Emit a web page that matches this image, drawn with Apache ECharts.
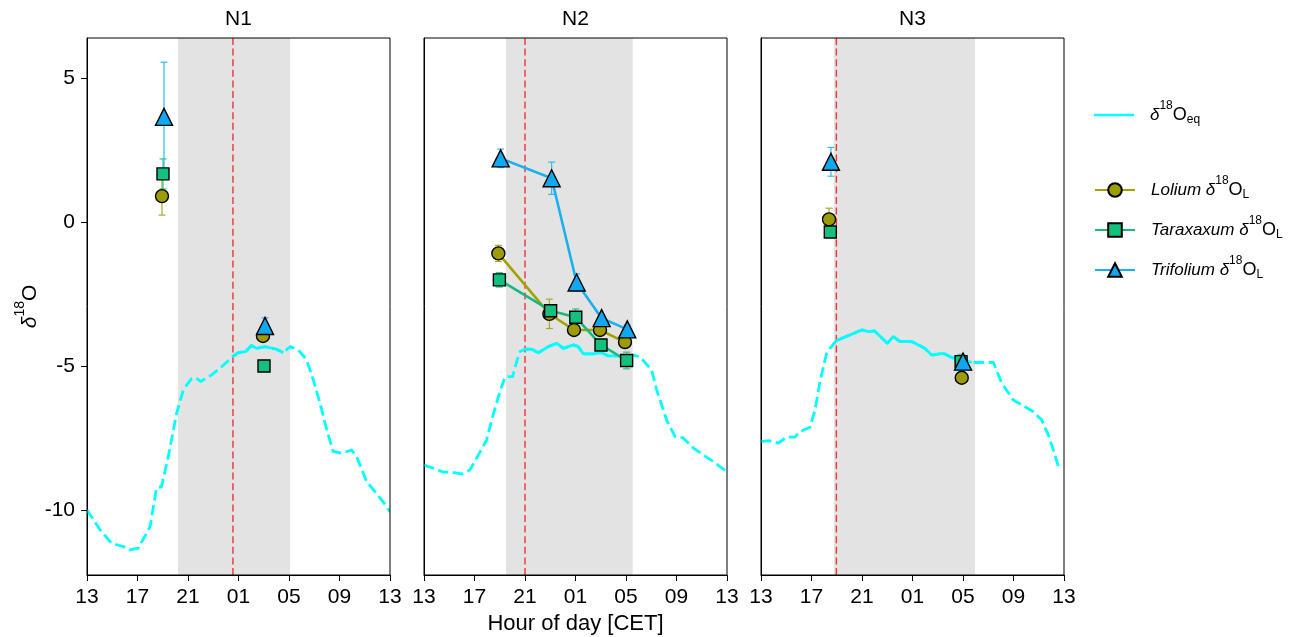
<!DOCTYPE html>
<html>
<head>
<meta charset="utf-8">
<script src="https://cdn.jsdelivr.net/npm/echarts@6/dist/echarts.min.js"></script>
<style>
  html, body { margin: 0; padding: 0; background: #fff; }
  #chart { width: 1301px; height: 637px; }
</style>
</head>
<body>
<div id="chart"></div>
<script>
// Time axis: hours after 13:00 CET (0 = 13:00, 24 = 13:00 the next day)
const hourTickLabels = ['13', '17', '21', '01', '05', '09', '13'];
const panelNames = ['N1', 'N2', 'N3'];
const yTickValues = [-10, -5, 0, 5];

// Night window (grey band) and red marker line for each night
const nightStart = [7.2, 6.5, 5.78];
const nightEnd = [16.08, 16.53, 16.95];
const markerTime = [11.56, 8.0, 5.97];
// Stretch of the equilibrium curve drawn as a solid line
const solidFrom = [11.53, 8.0, 5.97];
const solidTo = [15.55, 16.53, 16.69];

// Equilibrium δ18O, [hour, value]
const eqN1 = [[0,-10.0],[1.03,-10.69],[1.95,-11.16],[2.87,-11.27],[3.4,-11.39],[4.06,-11.33],[5.0,-10.58],[5.5,-9.25],[5.9,-9.19],[6.44,-8.15],[7.1,-6.64],[7.63,-5.83],[8.29,-5.43],[8.68,-5.43],[9.0,-5.54],[9.87,-5.31],[10.53,-5.08],[11.53,-4.68],[11.98,-4.54],[12.56,-4.5],[13.03,-4.29],[13.43,-4.39],[14.1,-4.33],[15.02,-4.42],[15.55,-4.54],[16.08,-4.33],[16.74,-4.44],[17.4,-4.79],[17.93,-5.49],[18.46,-6.3],[18.99,-7.22],[19.5,-7.97],[20.17,-8.03],[20.96,-7.92],[21.36,-8.15],[22.15,-9.02],[22.8,-9.36],[23.74,-9.88],[24,-10.07]];
const eqN2 = [[0,-8.44],[0.74,-8.55],[1.53,-8.69],[2.19,-8.69],[2.98,-8.75],[3.64,-8.61],[4.17,-8.2],[4.96,-7.57],[5.36,-6.88],[5.89,-6.07],[6.42,-5.37],[7.02,-5.37],[7.34,-4.85],[7.6,-4.5],[8.0,-4.42],[8.53,-4.42],[9.06,-4.54],[9.85,-4.33],[10.51,-4.21],[11.03,-4.39],[11.83,-4.27],[12.22,-4.33],[12.62,-4.58],[13.41,-4.58],[14.07,-4.54],[14.6,-4.65],[15.26,-4.65],[15.92,-4.68],[16.53,-4.62],[17.1,-4.68],[18.03,-5.14],[18.43,-5.83],[19.22,-6.88],[19.88,-7.45],[20.53,-7.5],[21.33,-7.85],[22.12,-8.09],[22.91,-8.32],[23.97,-8.67]];
const eqN3 = [[0,-7.63],[0.58,-7.59],[1.37,-7.68],[2.03,-7.47],[2.69,-7.47],[3.09,-7.28],[3.88,-7.13],[4.28,-6.53],[4.67,-5.54],[5.2,-4.56],[5.47,-4.39],[5.97,-4.12],[7.98,-3.75],[8.5,-3.81],[8.98,-3.78],[10.0,-4.21],[10.48,-3.98],[11.0,-4.15],[11.94,-4.15],[12.99,-4.39],[13.52,-4.62],[14.44,-4.56],[15.1,-4.71],[15.76,-4.76],[16.69,-4.88],[17.6,-4.88],[18.4,-4.88],[19.07,-5.6],[19.98,-6.18],[20.65,-6.35],[21.57,-6.59],[22.24,-6.88],[22.76,-7.4],[23.16,-7.92],[23.56,-8.5]];
const eqData = [eqN1, eqN2, eqN3];

// Leaf water δ18O: sampling hour, mean, standard error
const loliumTime = [[5.94, 13.94], [5.89, 9.93, 11.88, 13.94, 15.92], [5.39, 15.9]];
const loliumVal  = [[0.9, -3.96], [-1.09, -3.19, -3.75, -3.75, -4.17], [0.09, -5.41]];
const loliumErr  = [[0.66, 0.12], [0.28, 0.51, 0.12, 0.12, 0.15], [0.39, 0.1]];

const taraxacumTime = [[6.02, 14.02], [5.97, 10.03, 12.02, 14.02, 16.05], [5.49, 15.85]];
const taraxacumVal  = [[1.67, -5.0], [-2.01, -3.08, -3.31, -4.27, -4.81], [-0.35, -4.85]];
const taraxacumErr  = [[0.52, 0.05], [0.25, 0.15, 0.29, 0.1, 0.29], [0.1, 0.25]];

const trifoliumTime = [[6.1, 14.1], [6.07, 10.11, 12.09, 14.07, 16.1], [5.54, 16.0]];
const trifoliumVal  = [[3.65, -3.61], [2.21, 1.52, -2.1, -3.34, -3.73], [2.09, -4.85]];
const trifoliumErr  = [[1.9, 0.28], [0.32, 0.56, 0.3, 0.1, 0.15], [0.5, 0.15]];

const Y_MIN = -12.26, Y_MAX = 6.39;
const FONT = 'Liberation Sans, Arial, sans-serif';
const EQ_COLOR = '#00ffff';
const EQ_WIDTH = 2.8;

const species = [
  { name: 'Lolium', time: loliumTime, val: loliumVal, err: loliumErr,
    symbol: 'circle', size: 13, fill: '#9c9c00', line: '#a3a300', bar: '#a8a830' },
  { name: 'Taraxaxum', time: taraxacumTime, val: taraxacumVal, err: taraxacumErr,
    symbol: 'rect', size: 12, fill: '#14c07e', line: '#18b880', bar: '#30c090' },
  { name: 'Trifolium', time: trifoliumTime, val: trifoliumVal, err: trifoliumErr,
    symbol: 'triangle', size: 17, fill: '#10a8f0', line: '#18b0f0', bar: '#30b8f0' }
];

const gridLeft = [87, 424, 761];
const grids = [], xAxes = [], yAxes = [], titles = [], series = [];

const zip = (a, b) => a.map((t, i) => [t, b[i]]);

panelNames.forEach((pname, p) => {
  grids.push({ left: gridLeft[p], top: 38, width: 303, height: 537,
    outerBoundsMode: 'none', containLabel: false,
    show: true, borderColor: '#000', borderWidth: 1, backgroundColor: 'transparent', z: 10 });
  titles.push({ text: pname, left: gridLeft[p] + 146.5, top: 4, textAlign: 'center',
    textStyle: { fontFamily: FONT, fontSize: 21, fontWeight: 'normal', color: '#000' } });
  const xa = {
    gridIndex: p, type: 'value', min: 0, max: 24, interval: 4,
    axisLine: { show: true, onZero: false, lineStyle: { color: '#000', width: 1 } },
    axisTick: { show: true, length: 6, lineStyle: { color: '#000' } },
    axisLabel: { margin: 12, fontFamily: FONT, fontSize: 21, color: '#000',
      formatter: v => hourTickLabels[Math.round(v / 4)] },
    splitLine: { show: false }
  };
  if (p === 1) {
    xa.name = 'Hour of day [CET]';
    xa.nameLocation = 'middle';
    xa.nameGap = 35;
    xa.nameTextStyle = { fontFamily: FONT, fontSize: 22, color: '#000' };
  }
  xAxes.push(xa);
  const ya = {
    gridIndex: p, type: 'value', min: Y_MIN, max: Y_MAX,
    axisLine: { show: true, onZero: false, lineStyle: { color: '#000', width: 1 } },
    axisTick: { show: p === 0, length: 6, customValues: yTickValues, lineStyle: { color: '#000' } },
    axisLabel: { show: p === 0, customValues: yTickValues, margin: 12,
      fontFamily: FONT, fontSize: 21, color: '#000' },
    splitLine: { show: false }
  };
  if (p === 0) {
    ya.name = '{d|δ}{sup|18}{n|O}';
    ya.nameLocation = 'middle';
    ya.nameRotate = 90;
    ya.nameGap = 27;
    ya.nameTextStyle = { fontFamily: FONT, fontSize: 21, color: '#000',
      rich: {
        d: { fontFamily: FONT, fontSize: 21, fontStyle: 'italic', lineHeight: 34 },
        sup: { fontFamily: FONT, fontSize: 14, verticalAlign: 'top', lineHeight: 34 },
        n: { fontFamily: FONT, fontSize: 21, lineHeight: 34 }
      } };
  }
  yAxes.push(ya);

  // grey night band
  series.push({
    type: 'custom', xAxisIndex: p, yAxisIndex: p, z: 1, silent: true,
    data: [[nightStart[p], nightEnd[p]]],
    encode: { x: [0, 1] },
    renderItem: (params, api) => {
      const a = api.coord([api.value(0), Y_MAX]);
      const b = api.coord([api.value(1), Y_MIN]);
      return { type: 'rect', shape: { x: a[0], y: a[1], width: b[0] - a[0], height: b[1] - a[1] },
        style: { fill: '#e3e3e3' } };
    }
  });
  // red dashed marker line
  series.push({
    type: 'custom', xAxisIndex: p, yAxisIndex: p, z: 2, silent: true,
    data: [[markerTime[p]]],
    encode: { x: 0 },
    renderItem: (params, api) => {
      const a = api.coord([api.value(0), Y_MAX]);
      const b = api.coord([api.value(0), Y_MIN]);
      return { type: 'line', shape: { x1: a[0], y1: a[1], x2: b[0], y2: b[1] },
        style: { stroke: '#f03434', lineWidth: 1.4, lineDash: [7, 3.6] } };
    }
  });
  // equilibrium curve: dashed over the whole day...
  series.push({
    type: 'custom', xAxisIndex: p, yAxisIndex: p, z: 3, silent: true, clip: true,
    data: eqData[p], encode: { x: 0, y: 1 },
    renderItem: (params, api) => {
      if (params.dataIndex !== 0) return null;
      const pts = eqData[p].map(d => api.coord(d));
      return { type: 'polyline', shape: { points: pts },
        style: { stroke: EQ_COLOR, lineWidth: EQ_WIDTH, lineDash: [10.5, 4.6],
          fill: null, lineJoin: 'round' } };
    }
  });
  // ...and solid through the night stretch
  series.push({
    type: 'line', name: 'eq', xAxisIndex: p, yAxisIndex: p, z: 3,
    data: eqData[p].filter(d => d[0] >= solidFrom[p] - 1e-6 && d[0] <= solidTo[p] + 1e-6),
    symbol: 'none', silent: true,
    itemStyle: { color: EQ_COLOR },
    lineStyle: { color: EQ_COLOR, width: EQ_WIDTH }
  });

  species.forEach(s => {
    // error bars with caps
    series.push({
      type: 'custom', xAxisIndex: p, yAxisIndex: p, z: 4, silent: true,
      data: s.time[p].map((t, i) => [t, s.val[p][i], s.err[p][i]]),
      encode: { x: 0, y: 1 },
      renderItem: (params, api) => {
        const t = api.value(0), v = api.value(1), e = api.value(2);
        const top = api.coord([t, v + e]);
        const bot = api.coord([t, v - e]);
        const st = { stroke: s.bar, lineWidth: 1.2 };
        return { type: 'group', children: [
          { type: 'line', shape: { x1: top[0], y1: top[1], x2: bot[0], y2: bot[1] }, style: st },
          { type: 'line', shape: { x1: top[0] - 3.5, y1: top[1], x2: top[0] + 3.5, y2: top[1] }, style: st },
          { type: 'line', shape: { x1: bot[0] - 3.5, y1: bot[1], x2: bot[0] + 3.5, y2: bot[1] }, style: st }
        ] };
      }
    });
    // markers, joined only on the N2 night
    const connected = p === 1;
    series.push({
      type: connected ? 'line' : 'scatter',
      name: connected ? s.name : s.name + '-' + pname,
      xAxisIndex: p, yAxisIndex: p, z: 5,
      data: zip(s.time[p], s.val[p]),
      symbol: s.symbol, symbolSize: s.size, showSymbol: true,
      itemStyle: { color: s.fill, borderColor: '#000', borderWidth: 1.4, opacity: 1 },
      lineStyle: { color: s.line, width: 2.6 }
    });
  });
});

const legendRich = {
  sp: { fontFamily: FONT, fontSize: 17, fontStyle: 'italic', lineHeight: 30, padding: [0, 0, 0, 11] },
  d0: { fontFamily: FONT, fontSize: 17, fontStyle: 'italic', lineHeight: 30, padding: [0, 0, 0, 11] },
  d: { fontFamily: FONT, fontSize: 17, fontStyle: 'italic', lineHeight: 30 },
  sup: { fontFamily: FONT, fontSize: 12, verticalAlign: 'top', lineHeight: 30 },
  n: { fontFamily: FONT, fontSize: 18, lineHeight: 30 },
  sub: { fontFamily: FONT, fontSize: 12, verticalAlign: 'middle', lineHeight: 30, padding: [9, 0, 0, 0] }
};

const option = {
  animation: false,
  backgroundColor: '#fff',
  title: titles,
  grid: grids,
  xAxis: xAxes,
  yAxis: yAxes,
  legend: [
    {
      data: [{ name: 'eq', icon: 'rect' }], orient: 'vertical', left: 1089, top: 95,
      itemWidth: 40, itemHeight: 2.4,
      textStyle: { fontFamily: FONT, fontSize: 17, color: '#000', rich: legendRich },
      formatter: () => '{d0|δ}{sup|18}{n|O}{sub|eq}',
      selectedMode: false
    },
    {
      data: ['Lolium', 'Taraxaxum', 'Trifolium'], orient: 'vertical', left: 1089, top: 170,
      itemWidth: 40, itemHeight: 17, itemGap: 14.5,
      textStyle: { fontFamily: FONT, fontSize: 17, color: '#000', rich: legendRich },
      formatter: name => '{sp|' + name + ' }{d|δ}{sup|18}{n|O}{sub|L}',
      selectedMode: false
    }
  ],
  series: series
};

const chart = echarts.init(document.getElementById('chart'), null, { renderer: 'canvas' });
chart.setOption(option);
</script>
</body>
</html>
